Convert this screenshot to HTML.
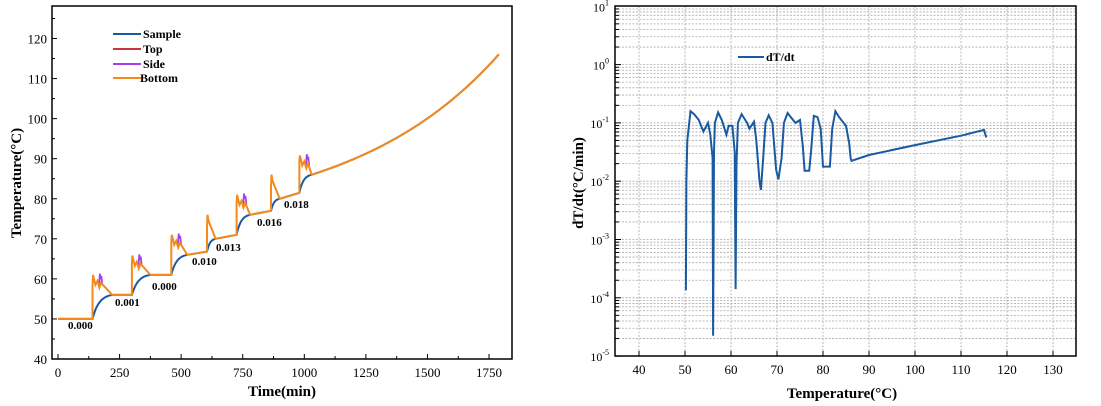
<!DOCTYPE html>
<html><head><meta charset="utf-8"><style>
html,body{margin:0;padding:0;background:#fff;}
svg{display:block;font-family:"Liberation Serif",serif;}
</style></head><body>
<svg id="s" width="1101" height="406" xmlns="http://www.w3.org/2000/svg"></svg>
<script>
const S=document.getElementById('s');let h='';
// ---------- LEFT CHART ----------
const LX=t=>58+t*0.2463, LY=v=>359-(v-40)*4.006;
h+='<rect x="52" y="6" width="460" height="353" fill="none" stroke="#000" stroke-width="1.5"/>';
for(let v=40;v<=120;v+=10){const y=LY(v);h+=`<line x1="52" y1="${y}" x2="57" y2="${y}" stroke="#000"/><text x="47" y="${y+5}" font-size="13" text-anchor="end">${v}</text>`;}
for(let v=45;v<=125;v+=10){const y=LY(v);h+=`<line x1="52" y1="${y}" x2="55" y2="${y}" stroke="#000"/>`;}
for(let t=0;t<=1750;t+=250){const x=LX(t);h+=`<line x1="${x}" y1="359" x2="${x}" y2="354" stroke="#000"/><text x="${x}" y="377" font-size="13" text-anchor="middle">${t}</text>`;}
for(let t=125;t<=1875;t+=250){const x=LX(t);if(x<512)h+=`<line x1="${x}" y1="359" x2="${x}" y2="356" stroke="#000"/>`;}
h+=`<text x="282" y="396" font-size="15" font-weight="bold" text-anchor="middle">Time(min)</text>`;
h+=`<text transform="translate(21,183) rotate(-90)" font-size="15" font-weight="bold" text-anchor="middle">Temperature(°C)</text>`;
const steps=[[140,50,56,220,300,11,'d'],[300,56,61,375,460,9.8,'d'],[460,61,66,525,605,10,'d'],[605,66.8,70,640,725,9.2,'s'],[725,71,76,780,865,10,'d'],[865,77,80,900,980,9,'s'],[980,81.5,86,1030,null,9.3,'d']];
let blue=[[0,50]],orng=[[0,50]],purp=[];
const flats=[[0,50,140,50],[220,56,300,56],[375,61,460,61],[525,66,605,66.8],[640,70,725,71],[780,76,865,77],[900,80,980,81.5]];
steps.forEach((s,i)=>{const [t0,Tp,Tn,te,fe,A,k]=s;
 blue.push([t0,Tp]);for(let j=1;j<=20;j++){const f=j/20;blue.push([t0+(te-t0)*f,Tp+(Tn-Tp)*(1-Math.exp(-3*f))/(1-Math.exp(-3))]);}
 orng.push([t0,Tp]);
 if(k=='d'){orng.push([t0,Tp+8],[t0+2,Tp+A],[t0+12,Tp+A-2.5],[t0+20,Tp+A-1.5],[t0+28,Tp+A-3.2],[t0+35,Tp+A-2],[te,Tn]);purp.push([[t0+26,Tp+A-3],[t0+30,Tp+A+0.3],[t0+33,Tp+A-1],[t0+36,Tp+A-0.3],[t0+40,Tp+A-2.5]]);}
 else{orng.push([t0,Tp+6],[t0+2,Tp+A],[t0+6,Tp+A-1.5],[te,Tn]);}
 if(fe){const nx=steps[i+1];blue.push([nx[0],nx[1]]);orng.push([nx[0],nx[1]]);}
});
for(let t=1030;t<=1790;t+=10){const T=86+12*(Math.exp(0.00165*(t-1030))-1);blue.push([t,T]);orng.push([t,T]);}
const P=(a,fx,fy)=>a.map((p,i)=>(i?'L':'M')+fx(p[0]).toFixed(1)+' '+fy(p[1]).toFixed(1)).join('');
purp.forEach(p=>{h+=`<path d="${P(p,LX,LY)}" fill="none" stroke="#a040f0" stroke-width="1.8"/>`;});
h+=`<path d="${P(blue,LX,LY)}" fill="none" stroke="#1a5aa0" stroke-width="2"/>`;
h+=`<path d="${P(orng,LX,LY)}" fill="none" stroke="#f58a1a" stroke-width="2"/>`;
[['0.000',68,329],['0.001',115,306],['0.000',152,290],['0.010',192,265],['0.013',216,251],['0.016',257,226],['0.018',284,208]].forEach(l=>{h+=`<text x="${l[1]}" y="${l[2]}" font-size="11" font-weight="bold">${l[0]}</text>`;});
[['Sample','#1a5aa0',34],['Top','#d03040',49],['Side','#a040f0',64],['Bottom','#f58a1a',78]].forEach(l=>{h+=`<line x1="113" y1="${l[2]}" x2="141" y2="${l[2]}" stroke="${l[1]}" stroke-width="2"/><text x="${l[0]=='Bottom'?140:143}" y="${l[2]+4}" font-size="12" font-weight="bold">${l[0]}</text>`;});
// ---------- RIGHT CHART ----------
const RX=t=>639+(t-40)*4.6, RY=l=>64.6-l*58.3;
for(let d=-5;d<1;d++)for(let m=1;m<10;m++){const y=RY(d+Math.log10(m));h+=`<line x1="615" y1="${y}" x2="1076" y2="${y}" stroke="#aaa" stroke-width="0.8" stroke-dasharray="2,1.5"/><line x1="615" y1="${y}" x2="${m==1?621:619}" y2="${y}" stroke="#000"/>`;}
for(let t=40;t<=130;t+=10){const x=RX(t);h+=`<line x1="${x}" y1="6" x2="${x}" y2="356" stroke="#aaa" stroke-width="0.8" stroke-dasharray="2,1.5"/><line x1="${x}" y1="356" x2="${x}" y2="351" stroke="#000"/><text x="${x}" y="374" font-size="13" text-anchor="middle">${t}</text>`;}
h+='<rect x="615" y="6" width="461" height="350" fill="none" stroke="#000" stroke-width="1.5"/>';
for(let d=-5;d<=1;d++){const y=RY(d);h+=`<text x="609" y="${y+5}" font-size="12" text-anchor="end">10<tspan font-size="8" dy="-6">${d}</tspan></text>`;}
h+=`<text x="842" y="398" font-size="15" font-weight="bold" text-anchor="middle">Temperature(°C)</text>`;
h+=`<text transform="translate(583,183) rotate(-90)" font-size="15" font-weight="bold" text-anchor="middle">dT/dt(°C/min)</text>`;
h+=`<line x1="738" y1="57" x2="764" y2="57" stroke="#1a5aa0" stroke-width="2"/><text x="766" y="61" font-size="12" font-weight="bold">dT/dt</text>`;
const D=[[50.2,-3.87],[50.3,-2],[50.5,-1.3],[51.2,-0.8],[52,-0.85],[53,-0.95],[54,-1.15],[55,-1.0],[55.5,-1.2],[56.0,-1.6],[56.1,-4.65],[56.3,-1.5],[56.5,-1.0],[57.2,-0.82],[58,-0.95],[59,-1.2],[59.5,-1.05],[60.3,-1.05],[60.8,-1.5],[61,-3.85],[61.2,-1.7],[61.5,-1.0],[62.3,-0.85],[63.5,-1.0],[64,-1.1],[65,-0.98],[65.5,-1.3],[66.2,-2.0],[66.5,-2.15],[67,-1.6],[67.5,-1.0],[68.2,-0.87],[69,-1.0],[69.8,-1.8],[70.3,-1.97],[71,-1.6],[71.5,-1.0],[72.3,-0.83],[73,-0.9],[74,-1.0],[75,-0.95],[75.6,-1.4],[76,-1.82],[77,-1.82],[77.4,-1.5],[78,-0.88],[78.8,-0.9],[79.5,-1.1],[80,-1.75],[81.5,-1.75],[82,-1.1],[82.7,-0.8],[83.5,-0.9],[84.2,-0.97],[85,-1.05],[85.7,-1.35],[86,-1.6],[86.2,-1.65],[90,-1.55],[100,-1.38],[110,-1.22],[115,-1.12],[115.5,-1.25]];
h+=`<path d="${P(D,RX,RY)}" fill="none" stroke="#1a5aa0" stroke-width="2"/>`;
S.innerHTML=h;
</script>
</body></html>
